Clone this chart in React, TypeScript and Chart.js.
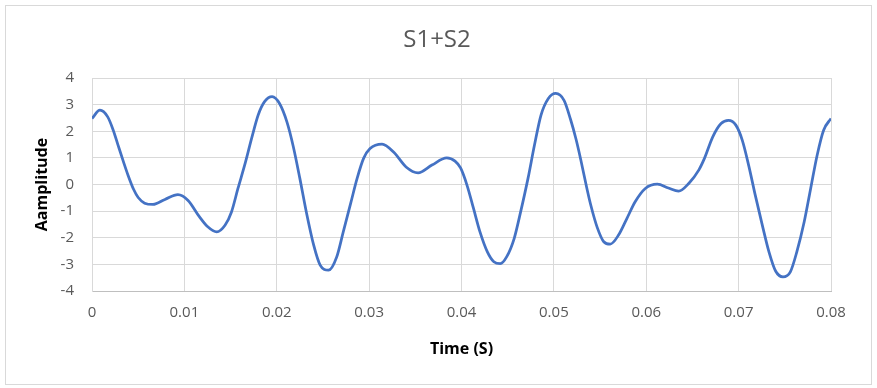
import React, { useEffect, useRef } from "react";
import { Chart, registerables } from "chart.js";

Chart.register(...registerables);

const chartTitle = "S1+S2";
const xAxisTitle = "Time (S)";
const yAxisTitle = "Aamplitude";

const timeSeconds = [
  0, 0.00086, 0.0017, 0.0023, 0.0028, 0.0034, 0.0039, 0.0045, 0.005, 0.0057,
  0.0066, 0.0079, 0.0093, 0.0104, 0.0116, 0.0125, 0.0135, 0.0144, 0.0151, 0.0158,
  0.0166, 0.0173, 0.018, 0.0187, 0.0195, 0.0203, 0.0211, 0.0218, 0.0225, 0.0232,
  0.024, 0.0247, 0.0256, 0.0265, 0.0272, 0.028, 0.0287, 0.0294, 0.0301, 0.0314,
  0.0327, 0.034, 0.0353, 0.0368, 0.0384, 0.0393, 0.0399, 0.0406, 0.0413, 0.042,
  0.0428, 0.0435, 0.0442, 0.0449, 0.0457, 0.0464, 0.0472, 0.0479, 0.0486, 0.0494,
  0.0502, 0.0511, 0.0518, 0.0524, 0.0529, 0.0535, 0.054, 0.0547, 0.0554, 0.0561,
  0.057, 0.0579, 0.0588, 0.0599, 0.0612, 0.0624, 0.0635, 0.0646, 0.0657, 0.0663,
  0.0672, 0.0681, 0.0689, 0.0697, 0.0704, 0.0711, 0.0718, 0.0726, 0.0733, 0.074,
  0.0748, 0.0756, 0.0763, 0.0771, 0.0778, 0.0785, 0.0792, 0.08,
];

const amplitude = [
  2.48, 2.79, 2.54, 2.04, 1.5, 0.86, 0.35, -0.18, -0.49, -0.7,
  -0.75, -0.56, -0.38, -0.6, -1.2, -1.58, -1.78, -1.53, -1.03, -0.15,
  0.82, 1.76, 2.62, 3.12, 3.3, 3.04, 2.35, 1.41, 0.23, -1.03,
  -2.28, -3.03, -3.22, -2.71, -1.78, -0.71, 0.23, 0.98, 1.35, 1.52,
  1.2, 0.66, 0.44, 0.73, 1.0, 0.88, 0.62, -0.03, -0.9, -1.78,
  -2.53, -2.9, -2.97, -2.71, -2.03, -1.03, 0.23, 1.48, 2.6, 3.23,
  3.42, 3.16, 2.45, 1.7, 0.95, -0.03, -0.78, -1.62, -2.15, -2.24,
  -1.9, -1.28, -0.65, -0.15, 0.01, -0.13, -0.25, 0.04, 0.55, 0.98,
  1.79, 2.29, 2.41, 2.23, 1.66, 0.7, -0.4, -1.58, -2.55, -3.25,
  -3.47, -3.28, -2.53, -1.4, -0.15, 1.1, 2.04, 2.48,
];

const xTickValues = [0, 0.01, 0.02, 0.03, 0.04, 0.05, 0.06, 0.07, 0.08];
const xTickLabels = ["0", "0.01", "0.02", "0.03", "0.04", "0.05", "0.06", "0.07", "0.08"];
const yTickValues = [-4, -3, -2, -1, 0, 1, 2, 3, 4];
const yTickLabels = ["-4", "-3", "-2", "-1", "0", "1", "2", "3", "4"];

export default function App() {
  const canvasRef = useRef<HTMLCanvasElement | null>(null);

  useEffect(() => {
    const canvas = canvasRef.current;
    if (!canvas) return;
    const points = timeSeconds.map((t, i) => ({ x: t, y: amplitude[i] }));

    const framePlugin = {
      id: "frame",
      beforeDraw(chart: any) {
        const ctx = chart.ctx;
        ctx.save();
        ctx.fillStyle = "#ffffff";
        ctx.fillRect(0, 0, chart.width, chart.height);
        ctx.restore();
      },
      afterDraw(chart: any) {
        const ctx = chart.ctx;
        ctx.save();
        ctx.strokeStyle = "#d9d9d9";
        ctx.lineWidth = 1;
        ctx.strokeRect(5.5, 5.5, 866, 379);
        ctx.fillStyle = "#595959";
        ctx.font = "24px 'Open Sans'";
        ctx.textAlign = "center";
        ctx.textBaseline = "alphabetic";
        ctx.fillText(chartTitle, 437, 47);
        ctx.restore();
      },
    };

    const tickFont = { family: "'Open Sans'", size: 15 };
    const titleFont = { family: "'Open Sans'", size: 16, weight: "bold" as const };

    const chart = new Chart(canvas, {
      type: "line",
      data: {
        datasets: [
          {
            data: points,
            borderColor: "#4472C4",
            borderWidth: 2.75,
            pointRadius: 0,
            cubicInterpolationMode: "monotone",
            fill: false,
          },
        ],
      },
      options: {
        animation: false,
        responsive: false,
        layout: { padding: { top: 78, right: 46, left: 0, bottom: 0 } },
        plugins: {
          legend: { display: false },
          tooltip: { enabled: false },
          title: { display: false },
        },
        scales: {
          x: {
            type: "linear",
            min: 0,
            max: 0.08,
            afterBuildTicks: (scale: any) => {
              scale.ticks = xTickValues.map((v) => ({ value: v }));
            },
            afterFit: (scale: any) => {
              scale.height = 97;
            },
            ticks: {
              font: tickFont,
              color: "#595959",
              padding: 13,
              maxRotation: 0,
              autoSkip: false,
              callback: (_v: any, i: number) => xTickLabels[i],
            },
            grid: { color: "#d9d9d9", lineWidth: 1, drawTicks: false },
            border: { color: "#bfbfbf", width: 1 },
            title: {
              display: true,
              text: xAxisTitle,
              font: titleFont,
              color: "#000000",
              padding: { top: 0, bottom: 29 },
            },
          },
          y: {
            type: "linear",
            min: -4,
            max: 4,
            afterBuildTicks: (scale: any) => {
              scale.ticks = yTickValues.map((v) => ({ value: v }));
            },
            afterFit: (scale: any) => {
              scale.width = 92;
            },
            ticks: {
              font: tickFont,
              color: "#595959",
              padding: 18,
              callback: (_v: any, i: number) => yTickLabels[i],
            },
            grid: { color: "#d9d9d9", lineWidth: 1, drawTicks: false },
            border: { color: "#d9d9d9", width: 1 },
            title: {
              display: true,
              text: yAxisTitle,
              font: titleFont,
              color: "#000000",
              padding: { top: 33, bottom: 0 },
            },
          },
        },
      },
      plugins: [framePlugin],
    } as any);

    return () => chart.destroy();
  }, []);

  return (
    <div style={{ position: "absolute", left: 0, top: 0, width: 877, height: 388 }}>
      <canvas ref={canvasRef} width={877} height={388} />
    </div>
  );
}
